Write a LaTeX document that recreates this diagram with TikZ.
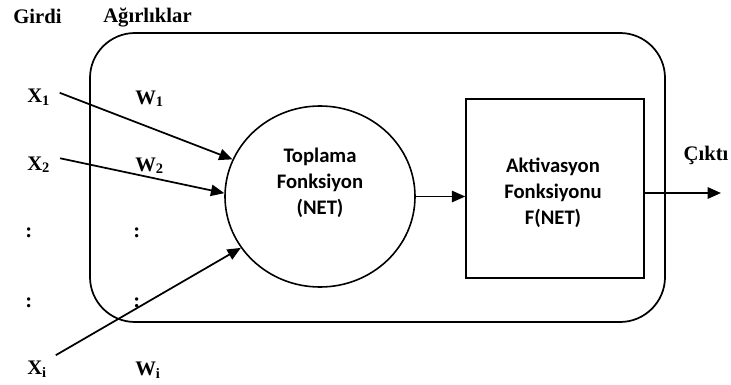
\documentclass[tikz,border=0pt]{standalone}
\usepackage{fontspec}
\setmainfont{Liberation Serif}
\newfontfamily\boxfont{Carlito}
\usetikzlibrary{arrows.meta,shapes.geometric}

\begin{document}
\begin{tikzpicture}[x=0.75pt,y=-0.75pt,
  lbl/.style={font=\fontsize{15.5}{18}\selectfont\bfseries, inner sep=0pt, anchor=base west},
  inner/.style={font=\boxfont\fontsize{15.5}{19.5}\selectfont\bfseries, align=center},
  conn/.style={line width=1.3pt, -{Triangle[length=10pt,width=8.5pt]}},
  feed/.style={conn, shorten <=7.5pt}
]
\useasboundingbox (0,0) rectangle (731,385);

% neuron outline
\node[draw, line width=1.3pt, rounded corners=33.75pt, minimum width=431.25pt,
      minimum height=216.75pt, inner sep=0pt] (neuron) at (377.5,177.5) {};

% summation unit
\node[draw, ellipse, line width=1.2pt, minimum width=142.5pt, minimum height=135.75pt,
      inner sep=0pt] (sum) at (320,196.5) {};
\node[inner] (sumtext) at (320,183) {Toplama\\Fonksiyon\\(NET)};

% activation unit
\node[draw, line width=1.1pt, minimum width=133.5pt, minimum height=134.25pt,
      inner sep=0pt] (act) at (555,188.5) {};
\node[inner] (acttext) at (553,192.5) {Aktivasyon\\Fonksiyonu\\F(NET)};

% headings
\node[lbl] (girdi) at (13,24) {Girdi};
\node[lbl] (agirlik) at (103,23) {Ağırlıklar};

% inputs and weights
\node[lbl] (x1) at (27,103) {X\textsubscript{1}};
\node[lbl] (w1) at (135,104) {W\textsubscript{1}};
\node[lbl] (x2) at (27,170) {X\textsubscript{2}};
\node[lbl] (w2) at (135,171) {W\textsubscript{2}};
\node[lbl] (xd1) at (25,237) {:};
\node[lbl] (wd1) at (133,237) {:};
\node[lbl] (xd2) at (25,307) {:};
\node[lbl] (wd2) at (133,307) {:};
\node[lbl] (xi) at (27,374) {X\textsubscript{i}};
\node[lbl] (wi) at (135,375) {W\textsubscript{i}};

% output
\node[lbl, anchor=base] (out) at (706,160) {Çıktı};
\coordinate (outend) at (721,193);

% connections
\draw[feed] (x1.north east) -- (sum.157);
\draw[feed] (x2.north east) -- (sum.178);
\draw[feed] (xi.north east) -- (sum.213);
\draw[conn] (sum.east) -- (sum.east -| act.west);
\draw[conn] (act.east |- outend) -- (outend);
\end{tikzpicture}
\end{document}
